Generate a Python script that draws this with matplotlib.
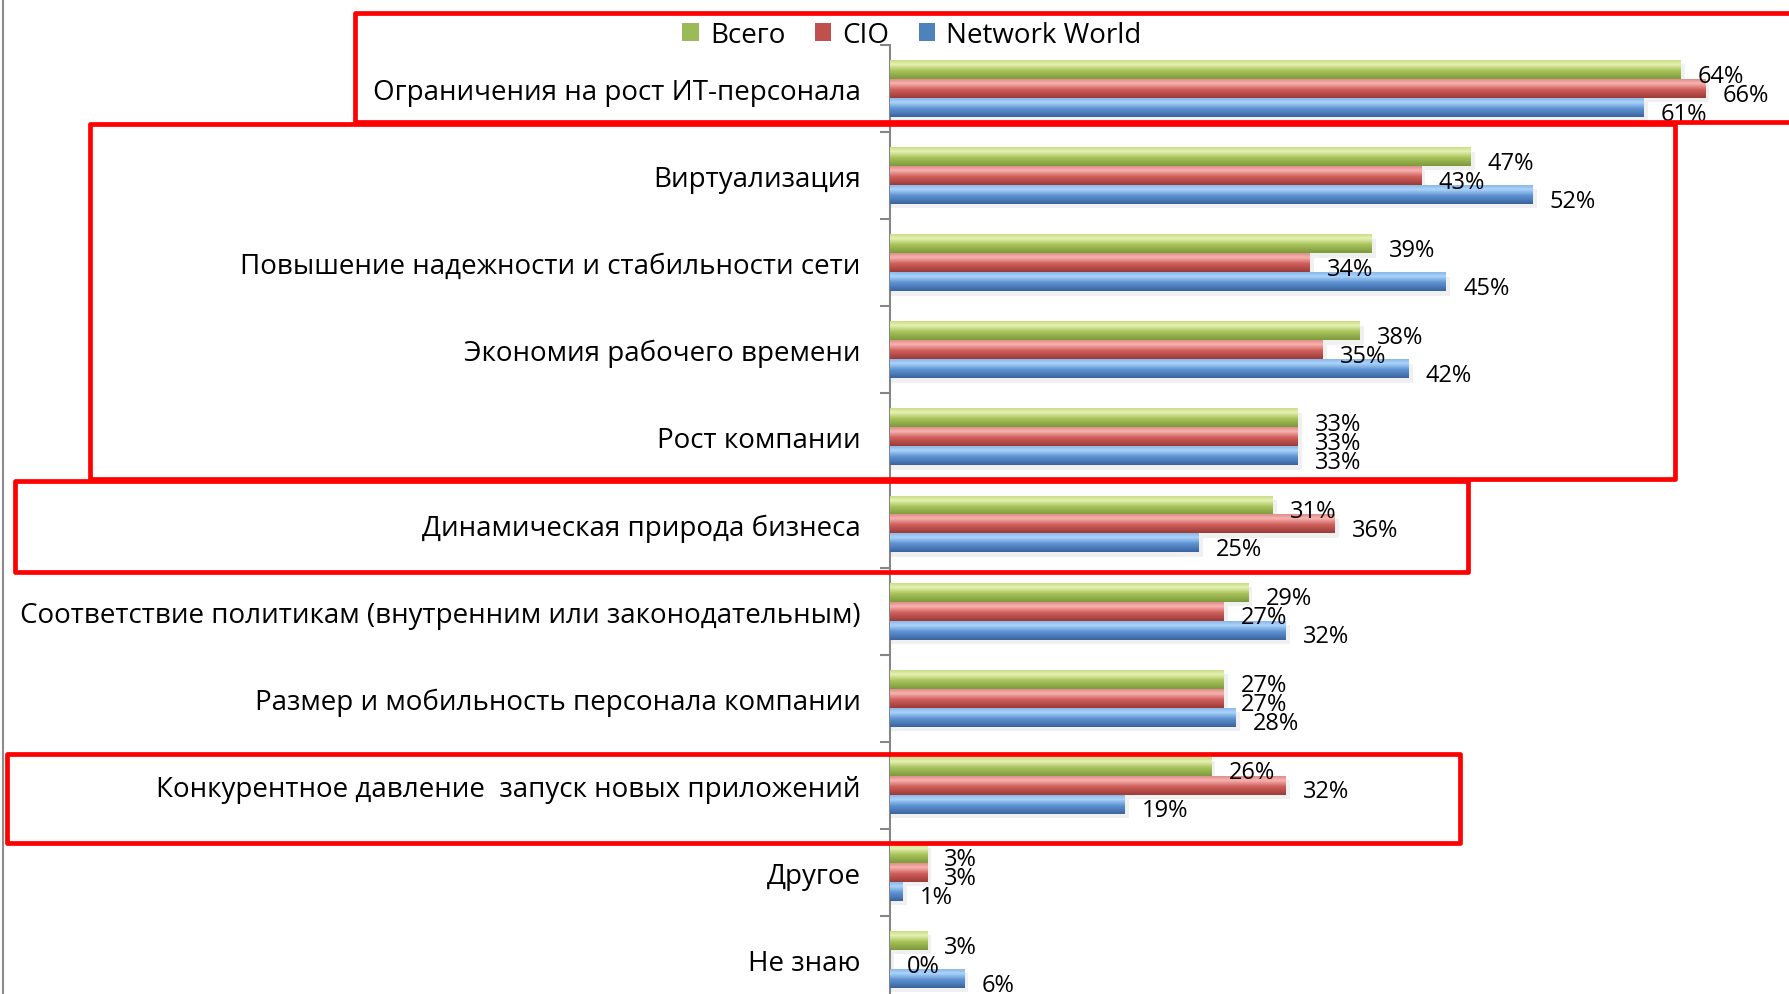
import matplotlib.pyplot as plt
import numpy as np
from matplotlib.colors import to_rgb
from matplotlib.patches import Patch, Rectangle
from matplotlib.lines import Line2D

plt.rcParams['font.family'] = ['Open Sans', 'DejaVu Sans']

categories = [
    'Ограничения на рост ИТ-персонала',
    'Виртуализация',
    'Повышение надежности и стабильности сети',
    'Экономия рабочего времени',
    'Рост компании',
    'Динамическая природа бизнеса',
    'Соответствие политикам (внутренним или законодательным)',
    'Размер и мобильность персонала компании',
    'Конкурентное давление  запуск новых приложений',
    'Другое',
    'Не знаю',
]
total = [64, 47, 39, 38, 33, 31, 29, 27, 26, 3, 3]
cio = [66, 43, 34, 35, 33, 36, 27, 27, 32, 3, 0]
network_world = [61, 52, 45, 42, 33, 25, 32, 28, 19, 1, 6]
series_names = ['Всего', 'CIO', 'Network World']

base_colors = ['#9bbb59', '#c0504d', '#4f81bd']
# shading stops for the rounded "cylinder" look, top -> bottom
shades = [
    ['#c9dd87', '#e6f2b2', '#a9c45c', '#7d9a3c'],
    ['#e08e8b', '#f7b3b0', '#d0605c', '#9c3b38'],
    ['#8ab8ea', '#acd4fb', '#5f93d3', '#3a649e'],
]
stops = [0.0, 0.22, 0.55, 1.0]


def shade_image(cols, n=40):
    t = np.linspace(0, 1, n)
    rgb = np.array([to_rgb(c) for c in cols])
    img = np.stack([np.interp(t, stops, rgb[:, k]) for k in range(3)], axis=-1)
    return img[:, None, :]


W, H = 1789, 995
fig = plt.figure(figsize=(W / 100, H / 100), dpi=100)

# axes in pixel units of the figure
ax_left, ax_top, ax_bottom = 890, 46, 1004
ax = fig.add_axes([ax_left / W, 1 - ax_bottom / H, (W - ax_left) / W, (ax_bottom - ax_top) / H])

n = len(categories)
y = np.arange(n)
h = 0.218
xmax = (W - ax_left) / 12.35

for i, (vals, cols) in enumerate(zip([total, cio, network_world], shades)):
    yy = y + (i - 1) * h
    bars = ax.barh(yy, vals, height=h, color=base_colors[i], zorder=2)
    img = shade_image(cols)
    for b, v, yc in zip(bars, vals, yy):
        # soft shadow under each bar
        ax.add_patch(Rectangle((0, b.get_y() + 0.05), b.get_width() + 0.35, b.get_height(),
                               color='#000000', alpha=0.06, lw=0, zorder=1))
        if b.get_width() > 0:
            ax.imshow(img, extent=(b.get_x(), b.get_x() + b.get_width(),
                                   b.get_y() + b.get_height(), b.get_y()),
                      origin='upper', aspect='auto', zorder=3, interpolation='bilinear')
        ax.text(v + 1.4, yc + 0.07, f'{v}%', va='center', ha='left', fontsize=17, zorder=5)

ax.set_xlim(0, xmax)
ax.set_ylim(n - 0.5, -0.5)

ax.set_yticks(y, categories, fontsize=20)
ax.tick_params(axis='y', which='major', length=0, pad=21)
ax.set_yticks(np.arange(-0.5, n, 1), minor=True)
ax.tick_params(axis='y', which='minor', length=7, width=1.5, color='#868686', direction='out')
ax.set_xticks([])
for s in ['top', 'right', 'bottom']:
    ax.spines[s].set_visible(False)
ax.spines['left'].set_color('#868686')
ax.spines['left'].set_linewidth(1.5)
ax.set_facecolor('none')

handles = [Patch(facecolor=c, edgecolor='none') for c in base_colors]
fig.legend(handles, series_names, loc='center', bbox_to_anchor=(912 / W, 1 - 36 / H),
           ncol=3, frameon=False, fontsize=20, handlelength=0.6, handleheight=0.6,
           handletextpad=0.4, columnspacing=1.05, borderpad=0)

# chart area border on the far left
fig.add_artist(Line2D([3 / W, 3 / W], [0, 1], color='#8c8c8c', lw=1.5))

# red highlight frames, pixel coordinates (x0, y0, x1, y1)
frames = [
    (354.5, 13.5, 1800, 123),
    (89.5, 125.5, 1675, 479.5),
    (14.5, 482, 1467.5, 572.5),
    (6.5, 754.5, 1459.5, 843.5),
]
for x0, y0, x1, y1 in frames:
    fig.add_artist(Rectangle((x0 / W, 1 - y1 / H), (x1 - x0) / W, (y1 - y0) / H,
                             fill=False, edgecolor='#ff0000', lw=3.4, zorder=10,
                             joinstyle='round'))

fig.savefig('out.png', dpi=100)
